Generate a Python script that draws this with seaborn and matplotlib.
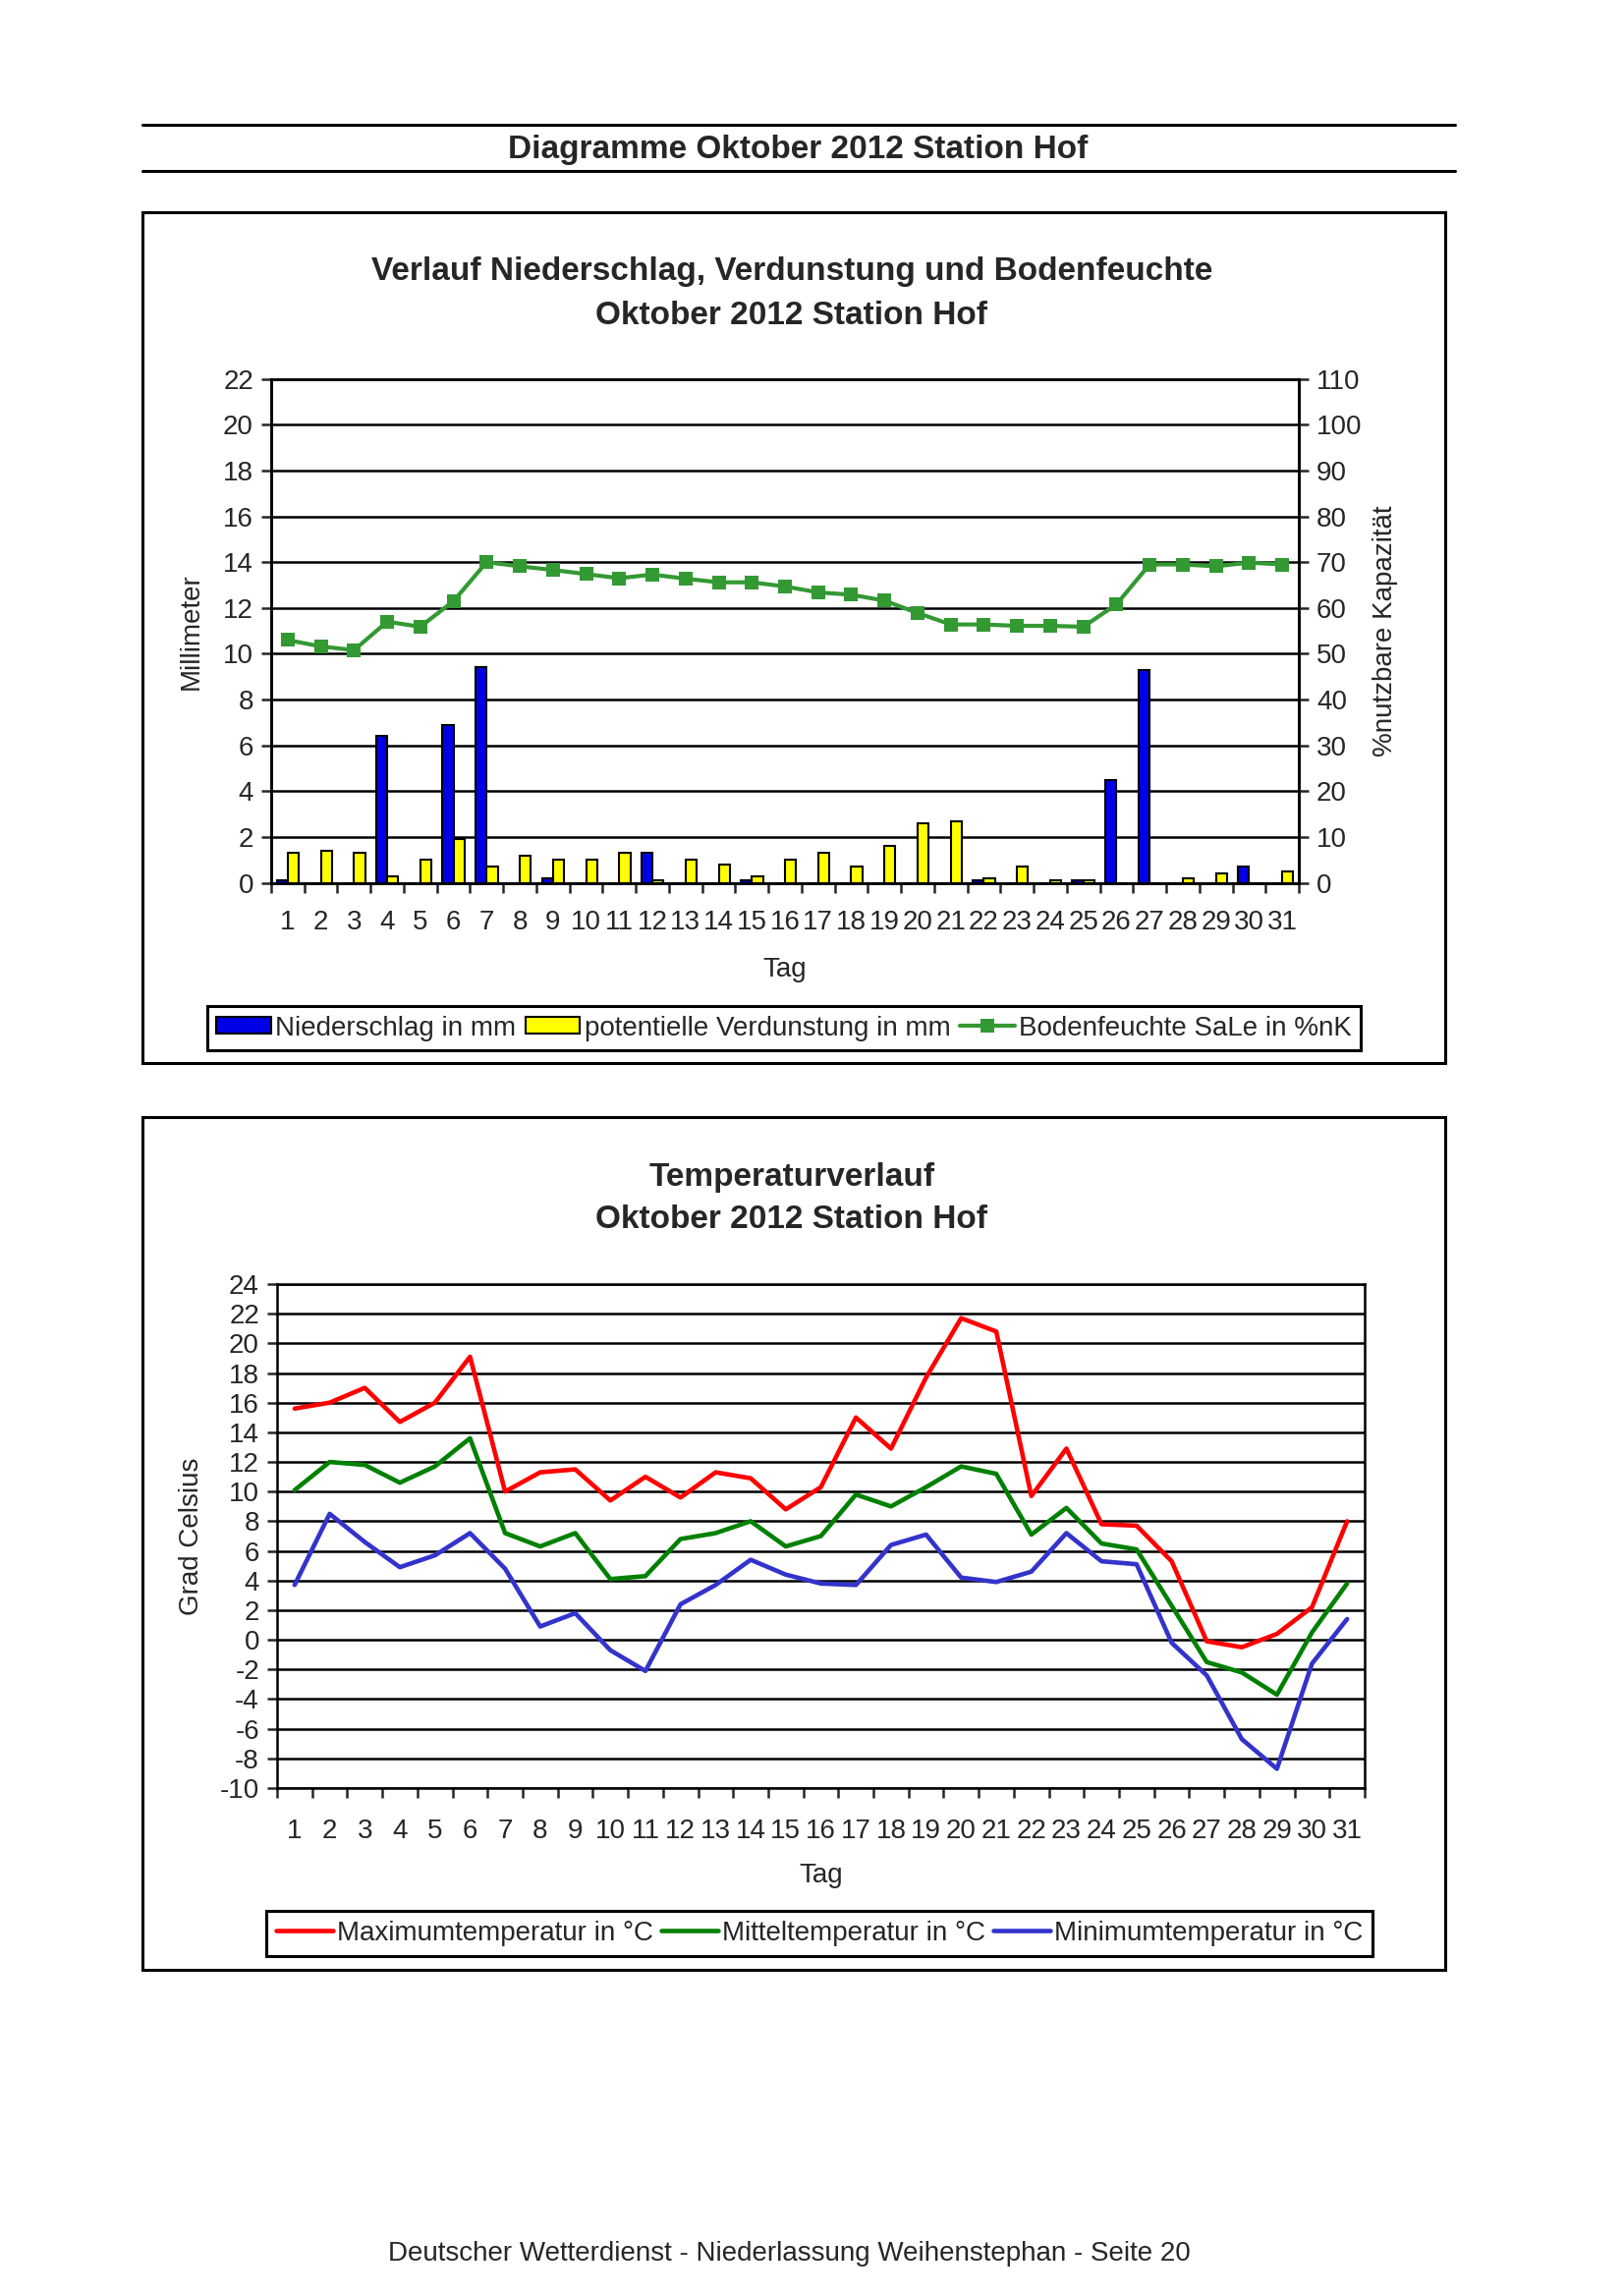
import numpy as np
import pandas as pd
import matplotlib
matplotlib.use('Agg')
import matplotlib.pyplot as plt
import seaborn as sns
from matplotlib.patches import Patch, Rectangle
from matplotlib.lines import Line2D

# Daten Oktober 2012, Station Hof
tage = list(range(1, 32))
niederschlag = [0.1, 0, 0, 6.4, 0, 6.9, 9.4, 0, 0.2, 0, 0, 1.3, 0, 0, 0.1, 0,
                0, 0, 0, 0, 0, 0.1, 0, 0, 0.1, 4.5, 9.3, 0, 0, 0.7, 0]
verdunstung = [1.3, 1.4, 1.3, 0.3, 1.0, 1.9, 0.7, 1.2, 1.0, 1.0, 1.3, 0.1, 1.0, 0.8, 0.3, 1.0,
               1.3, 0.7, 1.6, 2.6, 2.7, 0.2, 0.7, 0.1, 0.1, 0, 0, 0.2, 0.4, 0, 0.5]
bodenfeuchte = [53.0, 51.6, 50.8, 57.0, 55.9, 61.5, 70.0, 69.1, 68.3, 67.4, 66.5, 67.3, 66.4, 65.6, 65.6, 64.7,
                63.4, 62.9, 61.6, 58.9, 56.4, 56.4, 56.1, 56.1, 55.9, 60.8, 69.5, 69.5, 69.1, 69.9, 69.5]

t_max = [15.6, 16.0, 17.0, 14.7, 16.0, 19.1, 10.0, 11.3, 11.5, 9.4, 11.0, 9.6, 11.3, 10.9, 8.8, 10.3,
         15.0, 12.9, 17.7, 21.7, 20.8, 9.7, 12.9, 7.8, 7.7, 5.3, -0.1, -0.5, 0.4, 2.2, 8.0]
t_mittel = [10.1, 12.0, 11.8, 10.6, 11.7, 13.6, 7.2, 6.3, 7.2, 4.1, 4.3, 6.8, 7.2, 8.0, 6.3, 7.0,
            9.8, 9.0, 10.3, 11.7, 11.2, 7.1, 8.9, 6.5, 6.1, 2.3, -1.5, -2.2, -3.7, 0.5, 3.8]
t_min = [3.7, 8.5, 6.6, 4.9, 5.7, 7.2, 4.8, 0.9, 1.8, -0.7, -2.1, 2.4, 3.7, 5.4, 4.4, 3.8,
         3.7, 6.4, 7.1, 4.2, 3.9, 4.6, 7.2, 5.3, 5.1, -0.2, -2.4, -6.7, -8.7, -1.6, 1.4]

bar_labels = ['Niederschlag in mm', 'potentielle Verdunstung in mm']
boden_label = 'Bodenfeuchte SaLe in %nK'
temp_labels = ['Maximumtemperatur in °C', 'Mitteltemperatur in °C', 'Minimumtemperatur in °C']

blau = '#0000e6'
gelb = '#ffff00'
gruen = '#339933'
temp_farben = ['#ff0000', '#008000', '#3333cc']

sns.set_style('white')
plt.rcParams['font.family'] = ['Liberation Sans', 'DejaVu Sans']
plt.rcParams['axes.unicode_minus'] = False

W, H = 1653, 2337
fig = plt.figure(figsize=(W / 100, H / 100), dpi=100)
fs = 20
lw_grid = 1.8


def fx(px):
    return px / W


def fy(py):
    return 1 - py / H


# Kopfzeile
for y in (127, 174):
    fig.add_artist(Line2D([fx(145), fx(1481)], [fy(y), fy(y)], transform=fig.transFigure,
                          color='black', lw=2.2))
fig.text(fx(812), fy(153), 'Diagramme Oktober 2012 Station Hof', ha='center', va='center',
         fontsize=24, fontweight='bold')

# Rahmen
for top, bottom in ((216, 1082), (1137, 2005)):
    fig.add_artist(Rectangle((fx(145), fy(bottom)), fx(1471) - fx(145), (bottom - top) / H,
                             transform=fig.transFigure, fill=False, edgecolor='black', lw=2.2))

# ---------------- Diagramm 1 ----------------
fig.text(fx(806), fy(276), 'Verlauf Niederschlag, Verdunstung und Bodenfeuchte', ha='center',
         va='center', fontsize=24, fontweight='bold')
fig.text(fx(806), fy(321), 'Oktober 2012 Station Hof', ha='center', va='center',
         fontsize=24, fontweight='bold')

ax1 = fig.add_axes([fx(276), fy(898.6), fx(1046), 512.9 / H])
df_bars = pd.DataFrame({'Tag': tage * 2,
                        'Wert': niederschlag + verdunstung,
                        'Reihe': [bar_labels[0]] * 31 + [bar_labels[1]] * 31})
sns.barplot(data=df_bars, x='Tag', y='Wert', hue='Reihe', hue_order=bar_labels,
            palette=[blau, gelb], width=2 / 3, edgecolor='black', linewidth=1.5,
            saturation=1, errorbar=None, legend=False, ax=ax1)
ax1.set_ylim(0, 22)
ax1.set_xlim(-0.5, 30.5)
ax1.set_yticks(np.arange(0, 23, 2))
ax1.yaxis.grid(True, color='black', lw=lw_grid)
ax1.set_axisbelow(True)
ax1.set_xticks(np.arange(-0.5, 31, 1))
ax1.set_xticklabels([])
ax1.set_xticks(np.arange(31), minor=True)
ax1.set_xticklabels([str(t) for t in tage], minor=True)
ax1.tick_params(axis='x', which='major', direction='out', length=7, width=lw_grid, bottom=True)
ax1.tick_params(axis='x', which='minor', length=0, labelsize=fs, pad=20)
ax1.tick_params(axis='y', direction='out', length=7, width=lw_grid, left=True, labelsize=fs, pad=6)
for s in ax1.spines.values():
    s.set_linewidth(lw_grid)
    s.set_color('black')
ax1.set_xlabel('Tag', fontsize=fs)
ax1.xaxis.set_label_coords(0.5, -0.172)
ax1.xaxis.label.set_va('center')
ax1.set_ylabel('Millimeter', fontsize=fs)
ax1.yaxis.set_label_coords(-0.0774, 0.5)
ax1.yaxis.label.set_va('center')

ax2 = ax1.twinx()
sns.lineplot(x=[t - 1 for t in tage], y=bodenfeuchte, ax=ax2, color=gruen, lw=3,
             marker='s', markersize=10, markeredgewidth=0)
ax2.set_ylim(0, 110)
ax2.set_yticks(np.arange(0, 111, 10))
ax2.tick_params(axis='y', direction='out', length=7, width=lw_grid, right=True, labelsize=fs, pad=6)
for s in ax2.spines.values():
    s.set_linewidth(lw_grid)
    s.set_color('black')
ax2.set_ylabel('%nutzbare Kapazität', fontsize=fs)
ax2.yaxis.set_label_coords(1.0841, 0.5)
ax2.yaxis.label.set_va('center')

handles1 = [Patch(facecolor=blau, edgecolor='black', lw=1.5, label=bar_labels[0]),
            Patch(facecolor=gelb, edgecolor='black', lw=1.5, label=bar_labels[1]),
            Line2D([], [], color=gruen, lw=3, marker='s', markersize=10, markeredgewidth=0,
                   label=boden_label)]
leg1 = fig.legend(handles=handles1, loc='center', bbox_to_anchor=(fx(798), fy(1046.5)), ncol=3,
                  fontsize=fs, frameon=True, fancybox=False, edgecolor='black', framealpha=1,
                  handlelength=2.0, handleheight=0.55, handletextpad=0.15, columnspacing=0.35,
                  borderpad=0.35)
leg1.get_frame().set_linewidth(2.2)

# ---------------- Diagramm 2 ----------------
fig.text(fx(806), fy(1198), 'Temperaturverlauf', ha='center', va='center',
         fontsize=24, fontweight='bold')
fig.text(fx(806), fy(1241), 'Oktober 2012 Station Hof', ha='center', va='center',
         fontsize=24, fontweight='bold')

ax3 = fig.add_axes([fx(282), fy(1820), fx(1107), 513 / H])
df_temp = pd.DataFrame({'Tag': tage * 3,
                        'Temperatur': t_max + t_mittel + t_min,
                        'Reihe': [temp_labels[0]] * 31 + [temp_labels[1]] * 31 + [temp_labels[2]] * 31})
sns.lineplot(data=df_temp, x='Tag', y='Temperatur', hue='Reihe', hue_order=temp_labels,
             palette=temp_farben, lw=3.3, legend=False, ax=ax3)
ax3.set_xlim(0.5, 31.5)
ax3.set_ylim(-10, 24)
ax3.set_yticks(np.arange(-10, 25, 2))
ax3.yaxis.grid(True, color='black', lw=lw_grid)
ax3.set_axisbelow(True)
ax3.set_xticks(np.arange(0.5, 32, 1))
ax3.set_xticklabels([])
ax3.set_xticks(tage, minor=True)
ax3.set_xticklabels([str(t) for t in tage], minor=True)
ax3.tick_params(axis='x', which='major', direction='out', length=7, width=lw_grid, bottom=True)
ax3.tick_params(axis='x', which='minor', length=0, labelsize=fs, pad=22)
ax3.tick_params(axis='y', direction='out', length=7, width=lw_grid, left=True, labelsize=fs, pad=6)
for s in ax3.spines.values():
    s.set_linewidth(lw_grid)
    s.set_color('black')
ax3.set_xlabel('Tag', fontsize=fs)
ax3.xaxis.set_label_coords(0.5, -0.174)
ax3.xaxis.label.set_va('center')
ax3.set_ylabel('Grad Celsius', fontsize=fs)
ax3.yaxis.set_label_coords(-0.0786, 0.5)
ax3.yaxis.label.set_va('center')

handles2 = [Line2D([], [], color=c, lw=3.3, label=l) for c, l in zip(temp_farben, temp_labels)]
leg2 = fig.legend(handles=handles2, loc='center', bbox_to_anchor=(fx(834), fy(1968)), ncol=3,
                  fontsize=fs, frameon=True, fancybox=False, edgecolor='black', framealpha=1,
                  handlelength=2.1, handletextpad=0.12, columnspacing=0.3, borderpad=0.35)
leg2.get_frame().set_linewidth(2.2)

fig.text(fx(803), fy(2294), 'Deutscher Wetterdienst - Niederlassung Weihenstephan - Seite 20',
         ha='center', va='center', fontsize=fs)

fig.savefig('out.png', dpi=100, facecolor='white')
